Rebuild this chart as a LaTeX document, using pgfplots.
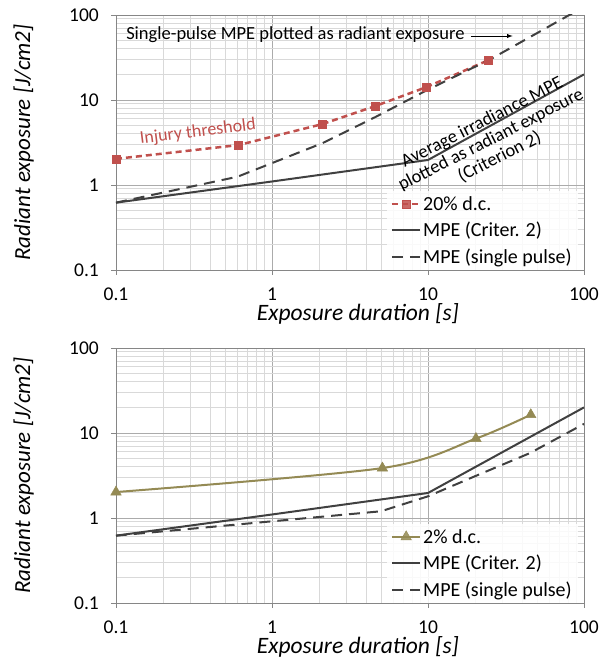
\documentclass[border=0pt]{standalone}
\usepackage{pgfplots}
\pgfplotsset{compat=1.18}
\usepackage{fontspec}
\setmainfont{Carlito}
\definecolor{redc}{HTML}{C0504D}
\definecolor{olivec}{HTML}{948A54}
\definecolor{darkc}{HTML}{404040}
\definecolor{axisc}{HTML}{868686}
\definecolor{majg}{HTML}{ABABAB}
\definecolor{ming}{HTML}{D9D9D9}
\begin{document}
\begin{tikzpicture}
\begin{axis}[at={(0pt,0pt)}, anchor=south west,
    xmode=log, ymode=log,
    scale only axis, width=468pt, height=255pt,
    xmin=0.1, xmax=100, ymin=0.1, ymax=100,
    xtick={0.1,1,10,100}, xticklabels={0.1,1,10,100},
    ytick={0.1,1,10,100}, yticklabels={0.1,1,10,100},
    minor xtick={0.2,0.3,0.4,0.5,0.6,0.7,0.8,0.9,2,3,4,5,6,7,8,9,20,30,40,50,60,70,80,90},
    minor ytick={0.2,0.3,0.4,0.5,0.6,0.7,0.8,0.9,2,3,4,5,6,7,8,9,20,30,40,50,60,70,80,90},
    grid=both,
    major grid style={draw=majg, line width=0.8pt},
    minor grid style={draw=ming, line width=0.8pt},
    axis line style={draw=axisc, line width=0.8pt},
    tick style={draw=axisc, line width=0.8pt},
    major tick length=5pt, minor tick length=0pt,
    tick align=outside, tick pos=left,
    xticklabel style={anchor=north, inner sep=0pt, yshift=-13pt, font=\fontsize{19.5}{19.5}\selectfont},
    yticklabel style={anchor=east, inner sep=0pt, xshift=-12pt, font=\fontsize{19.5}{19.5}\selectfont},
    xlabel style={at={(axis description cs:0.517,-0.172)}, anchor=center, font=\fontsize{23.5}{23.5}\selectfont\itshape},
    ylabel style={at={(axis description cs:-0.197,0.5)}, anchor=center, font=\fontsize{23}{23}\selectfont\itshape},
    xlabel={Exposure duration [s]},
    ylabel={Radiant exposure [J/cm2]},
    legend cell align=left,
    legend image code/.code={\draw[mark repeat=2,mark phase=2,#1] plot coordinates {(0pt,0pt) (14pt,0pt) (28pt,0pt)};},
    legend style={at={(rel axis cs:1,0)}, anchor=south east, xshift=-6pt, draw=none, fill=white, fill opacity=0.85, text opacity=1,
      font=\fontsize{20}{22}\selectfont, row sep=6.5pt, inner xsep=4pt, inner ysep=3pt}]
\addplot[redc, line width=2.5pt, dash pattern=on 6pt off 4pt, mark=square*, mark size=4pt, mark options={solid, fill=redc, draw=redc, line width=0.5pt}]
  coordinates {(0.1,2.03) (0.61,2.95) (2.1,5.2) (4.6,8.5) (9.7,14.1) (24.5,29.5)};
\addlegendentry{20\% d.c.}
\addplot[darkc, line width=2pt, solid] coordinates {(0.1,0.62) (1,1.1) (10,1.97) (100,20)};
\addlegendentry{MPE (Criter. 2)}
\addplot[darkc, line width=2pt, dash pattern=on 11pt off 7pt] coordinates {(0.1,0.62) (0.6,1.25) (2.1,3.1) (4.6,6.3) (9.8,13) (25,30) (100,125)};
\addlegendentry{MPE (single pulse)}
\node[anchor=west, inner sep=0pt, font=\fontsize{18.5}{18.5}\selectfont] at (axis cs:0.116,58) {Single-pulse MPE plotted as radiant exposure};
\draw[-latex, black, line width=0.9pt] (axis cs:18.8,56.6) -- (axis cs:34.9,56.6);
\node[rotate=7, text=redc, font=\fontsize{18}{18}\selectfont] at (axis cs:0.335,4.2) {Injury threshold};
\node[rotate=27, align=center, font=\fontsize{18.5}{19.5}\selectfont] at (axis cs:25.3,3.4) {Average irradiance MPE\\plotted as radiant exposure\\(Criterion 2)};
\end{axis}
\begin{axis}[at={(0pt,-333pt)}, anchor=south west,
    xmode=log, ymode=log,
    scale only axis, width=468pt, height=255pt,
    xmin=0.1, xmax=100, ymin=0.1, ymax=100,
    xtick={0.1,1,10,100}, xticklabels={0.1,1,10,100},
    ytick={0.1,1,10,100}, yticklabels={0.1,1,10,100},
    minor xtick={0.2,0.3,0.4,0.5,0.6,0.7,0.8,0.9,2,3,4,5,6,7,8,9,20,30,40,50,60,70,80,90},
    minor ytick={0.2,0.3,0.4,0.5,0.6,0.7,0.8,0.9,2,3,4,5,6,7,8,9,20,30,40,50,60,70,80,90},
    grid=both,
    major grid style={draw=majg, line width=0.8pt},
    minor grid style={draw=ming, line width=0.8pt},
    axis line style={draw=axisc, line width=0.8pt},
    tick style={draw=axisc, line width=0.8pt},
    major tick length=5pt, minor tick length=0pt,
    tick align=outside, tick pos=left,
    xticklabel style={anchor=north, inner sep=0pt, yshift=-13pt, font=\fontsize{19.5}{19.5}\selectfont},
    yticklabel style={anchor=east, inner sep=0pt, xshift=-12pt, font=\fontsize{19.5}{19.5}\selectfont},
    xlabel style={at={(axis description cs:0.517,-0.172)}, anchor=center, font=\fontsize{23.5}{23.5}\selectfont\itshape},
    ylabel style={at={(axis description cs:-0.197,0.5)}, anchor=center, font=\fontsize{23}{23}\selectfont\itshape},
    xlabel={Exposure duration [s]},
    ylabel={Radiant exposure [J/cm2]},
    legend cell align=left,
    legend image code/.code={\draw[mark repeat=2,mark phase=2,#1] plot coordinates {(0pt,0pt) (14pt,0pt) (28pt,0pt)};},
    legend style={at={(rel axis cs:1,0)}, anchor=south east, xshift=-6pt, draw=none, fill=white, fill opacity=0.85, text opacity=1,
      font=\fontsize{20}{22}\selectfont, row sep=6.5pt, inner xsep=4pt, inner ysep=3pt}]
\addplot[olivec, line width=2pt, smooth, mark=triangle*, mark size=6pt, mark options={solid, fill=olivec, draw=olivec, line width=0.5pt}]
  coordinates {(0.1,2.02) (5.1,3.87) (20.3,8.6) (45.6,16.4)};
\addlegendentry{2\% d.c.}
\addplot[darkc, line width=2pt, solid] coordinates {(0.1,0.62) (1,1.1) (10,1.97) (100,20)};
\addlegendentry{MPE (Criter. 2)}
\addplot[darkc, line width=2pt, dash pattern=on 11pt off 7pt] coordinates {(0.1,0.62) (5,1.2) (10,1.8) (20,3.1) (45,5.8) (100,12.8)};
\addlegendentry{MPE (single pulse)}
\end{axis}
\pgfresetboundingbox
\path[use as bounding box] (-116pt,-392pt) rectangle (490pt,270pt);
\end{tikzpicture}
\end{document}
